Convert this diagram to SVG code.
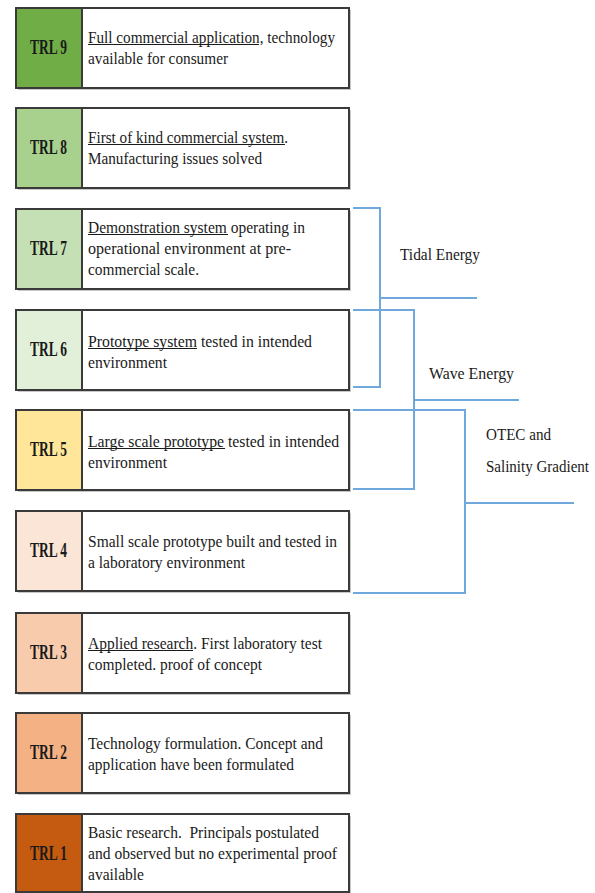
<svg xmlns="http://www.w3.org/2000/svg" width="595" height="893" viewBox="0 0 595 893" font-family="Liberation Serif, Times New Roman, serif">
<style>
.box{fill:#fff;stroke:#3a3a3a;stroke-width:2}
.shadow{fill:#c8c8c8}
.div{stroke:#3a3a3a;stroke-width:2}
.ul{stroke:#1a1a1a;stroke-width:1}
.lbl{font-weight:bold;font-size:20px;fill:#1a1a1a}
.txt{font-size:17px;fill:#1a1a1a}
.con{fill:none;stroke:#6fa8dc;stroke-width:2}
.cl{font-size:16px;fill:#1a1a1a}
</style>
<rect width="595" height="893" fill="#fff"/>
<g id="trl9">
<rect class="shadow" x="18" y="10" width="333" height="80"/>
<rect class="box" x="16" y="8" width="333" height="80"/>
<rect x="17" y="9" width="65" height="78" fill="#70ad47"/>
<line class="div" x1="82" y1="8" x2="82" y2="88"/>
<text class="lbl" x="30" y="54" textLength="37" lengthAdjust="spacingAndGlyphs">TRL 9</text>
<text class="txt" x="88" y="43" textLength="247" lengthAdjust="spacingAndGlyphs">Full commercial application, technology</text>
<line class="ul" x1="88" y1="44.5" x2="259" y2="44.5"/>
<text class="txt" x="88" y="64" textLength="140" lengthAdjust="spacingAndGlyphs">available for consumer</text>
</g>
<g id="trl8">
<rect class="shadow" x="18" y="110" width="333" height="80"/>
<rect class="box" x="16" y="108" width="333" height="80"/>
<rect x="17" y="109" width="65" height="78" fill="#a9d18e"/>
<line class="div" x1="82" y1="108" x2="82" y2="188"/>
<text class="lbl" x="30" y="154" textLength="37" lengthAdjust="spacingAndGlyphs">TRL 8</text>
<text class="txt" x="88" y="143" textLength="200" lengthAdjust="spacingAndGlyphs">First of kind commercial system.</text>
<line class="ul" x1="88" y1="144.5" x2="285" y2="144.5"/>
<text class="txt" x="88" y="164" textLength="174" lengthAdjust="spacingAndGlyphs">Manufacturing issues solved</text>
</g>
<g id="trl7">
<rect class="shadow" x="18" y="211" width="333" height="80"/>
<rect class="box" x="16" y="209" width="333" height="80"/>
<rect x="17" y="210" width="65" height="78" fill="#c5e0b4"/>
<line class="div" x1="82" y1="209" x2="82" y2="289"/>
<text class="lbl" x="30" y="255" textLength="37" lengthAdjust="spacingAndGlyphs">TRL 7</text>
<text class="txt" x="88" y="233" textLength="217" lengthAdjust="spacingAndGlyphs">Demonstration system operating in</text>
<line class="ul" x1="88" y1="234.5" x2="228" y2="234.5"/>
<text class="txt" x="88" y="254" textLength="203" lengthAdjust="spacingAndGlyphs">operational environment at pre-</text>
<text class="txt" x="88" y="275" textLength="111" lengthAdjust="spacingAndGlyphs">commercial scale.</text>
</g>
<g id="trl6">
<rect class="shadow" x="18" y="312" width="333" height="80"/>
<rect class="box" x="16" y="310" width="333" height="80"/>
<rect x="17" y="311" width="65" height="78" fill="#e2f0d9"/>
<line class="div" x1="82" y1="310" x2="82" y2="390"/>
<text class="lbl" x="30" y="356" textLength="37" lengthAdjust="spacingAndGlyphs">TRL 6</text>
<text class="txt" x="88" y="347" textLength="224" lengthAdjust="spacingAndGlyphs">Prototype system tested in intended</text>
<line class="ul" x1="88" y1="348.5" x2="197" y2="348.5"/>
<text class="txt" x="88" y="368" textLength="79" lengthAdjust="spacingAndGlyphs">environment</text>
</g>
<g id="trl5">
<rect class="shadow" x="18" y="412" width="333" height="80"/>
<rect class="box" x="16" y="410" width="333" height="80"/>
<rect x="17" y="411" width="65" height="78" fill="#ffe699"/>
<line class="div" x1="82" y1="410" x2="82" y2="490"/>
<text class="lbl" x="30" y="456" textLength="37" lengthAdjust="spacingAndGlyphs">TRL 5</text>
<text class="txt" x="88" y="447" textLength="251" lengthAdjust="spacingAndGlyphs">Large scale prototype tested in intended</text>
<line class="ul" x1="88" y1="448.5" x2="225" y2="448.5"/>
<text class="txt" x="88" y="468" textLength="79" lengthAdjust="spacingAndGlyphs">environment</text>
</g>
<g id="trl4">
<rect class="shadow" x="18" y="513" width="333" height="80"/>
<rect class="box" x="16" y="511" width="333" height="80"/>
<rect x="17" y="512" width="65" height="78" fill="#fbe5d6"/>
<line class="div" x1="82" y1="511" x2="82" y2="591"/>
<text class="lbl" x="30" y="557" textLength="37" lengthAdjust="spacingAndGlyphs">TRL 4</text>
<text class="txt" x="88" y="547" textLength="249" lengthAdjust="spacingAndGlyphs">Small scale prototype built and tested in</text>
<text class="txt" x="88" y="568" textLength="157" lengthAdjust="spacingAndGlyphs">a laboratory environment</text>
</g>
<g id="trl3">
<rect class="shadow" x="18" y="615" width="333" height="80"/>
<rect class="box" x="16" y="613" width="333" height="80"/>
<rect x="17" y="614" width="65" height="78" fill="#f8cbad"/>
<line class="div" x1="82" y1="613" x2="82" y2="693"/>
<text class="lbl" x="30" y="659" textLength="37" lengthAdjust="spacingAndGlyphs">TRL 3</text>
<text class="txt" x="88" y="649" textLength="234" lengthAdjust="spacingAndGlyphs">Applied research. First laboratory test</text>
<line class="ul" x1="88" y1="650.5" x2="193" y2="650.5"/>
<text class="txt" x="88" y="670" textLength="174" lengthAdjust="spacingAndGlyphs">completed. proof of concept</text>
</g>
<g id="trl2">
<rect class="shadow" x="18" y="715" width="333" height="80"/>
<rect class="box" x="16" y="713" width="333" height="80"/>
<rect x="17" y="714" width="65" height="78" fill="#f4b183"/>
<line class="div" x1="82" y1="713" x2="82" y2="793"/>
<text class="lbl" x="30" y="759" textLength="37" lengthAdjust="spacingAndGlyphs">TRL 2</text>
<text class="txt" x="88" y="749" textLength="235" lengthAdjust="spacingAndGlyphs">Technology formulation. Concept and</text>
<text class="txt" x="88" y="770" textLength="206" lengthAdjust="spacingAndGlyphs">application have been formulated</text>
</g>
<g id="trl1">
<rect class="shadow" x="18" y="816" width="333" height="80"/>
<rect class="box" x="16" y="814" width="333" height="78"/>
<rect x="17" y="815" width="65" height="76" fill="#c55a11"/>
<line class="div" x1="82" y1="814" x2="82" y2="892"/>
<text class="lbl" x="30" y="860" textLength="37" lengthAdjust="spacingAndGlyphs">TRL 1</text>
<text class="txt" x="88" y="838" textLength="231" lengthAdjust="spacingAndGlyphs" xml:space="preserve">Basic research.  Principals postulated</text>
<text class="txt" x="88" y="859" textLength="249" lengthAdjust="spacingAndGlyphs">and observed but no experimental proof</text>
<text class="txt" x="88" y="880" textLength="56" lengthAdjust="spacingAndGlyphs">available</text>
</g>
<g id="connectors">
<path class="con" d="M353 208 H380 V387 H353 M380 298 H477"/>
<path class="con" d="M353 310 H414 V489 H353 M414 400 H519"/>
<path class="con" d="M353 410 H465 V593 H353 M465 503 H574"/>
</g>
<g id="labels">
<text class="cl" x="400" y="260" textLength="80" lengthAdjust="spacingAndGlyphs">Tidal Energy</text>
<text class="cl" x="429" y="379" textLength="85" lengthAdjust="spacingAndGlyphs">Wave Energy</text>
<text class="cl" x="486" y="440" textLength="65" lengthAdjust="spacingAndGlyphs">OTEC and</text>
<text class="cl" x="486" y="472" font-size="15" textLength="103" lengthAdjust="spacingAndGlyphs">Salinity Gradient</text>
</g>
</svg>
